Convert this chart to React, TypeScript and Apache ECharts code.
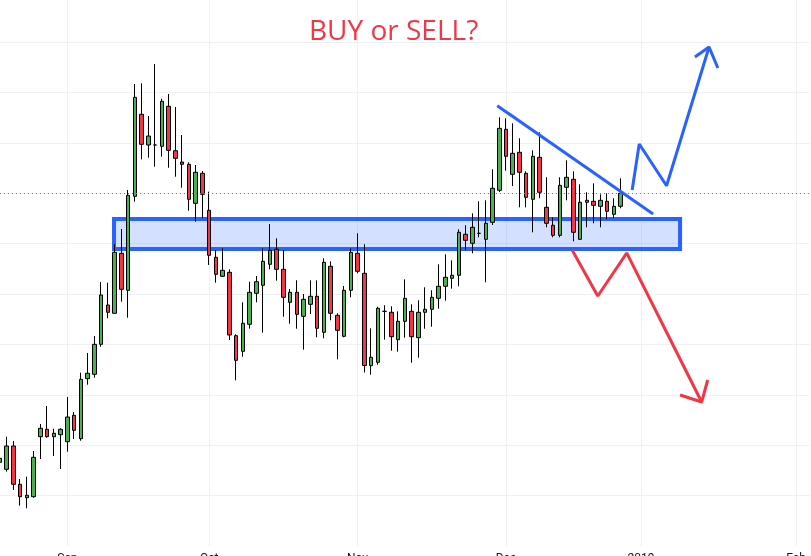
import React, { useEffect, useRef } from "react";
import * as echarts from "echarts";

// Month blocks visible on the time axis (trading days shown per month)
const monthNames = ["Aug", "Sep", "Oct", "Nov", "Dec", "Jan", "Feb"];
const monthTicks = ["", "Sep", "Oct", "Nov", "Dec", "2019", "Feb"];
const daysInView = [10, 21, 22, 22, 20, 23, 3];

// OHLC (price index units)
const opens = [83.7, 76.7, 100, 61.7, 48.3, 49.3, 109.3, 116.7, 109.3, 111.3, 104.3, 130.7, 107.3, 167.3, 171.7, 201.7, 241, 232.7, 292.7, 255.7, 349.7, 431.7, 401, 401, 399.7, 439.7, 395.3, 384, 381.7, 342.7, 372.7, 335.7, 288.7, 269.7, 273.7, 210.3, 194.7, 221.7, 252.7, 260.7, 281.7, 296.7, 276.7, 243.7, 253.7, 229.7, 241.7, 249.7, 213.7, 279.7, 230.7, 209.7, 255.7, 292.7, 272.7, 180.3, 183.7, 234.7, 233.7, 206.3, 224.7, 234.7, 208.3, 233.7, 236.7, 247.7, 259.7, 267.7, 270.7, 311.7, 302.7, 312.7, 306.7, 323.7, 355.7, 416.7, 371.7, 393.7, 372.7, 346.7, 388.7, 338.7, 320.7, 310.7, 358.7, 366.7, 306.7, 343.7, 344.7, 339.7, 344.7, 331.7, 339.7];
const closes = [87.7, 100, 61.7, 49.3, 50.7, 88.7, 117.7, 109.3, 112.7, 116.7, 129, 115.7, 166.7, 172.7, 201.7, 251, 233.7, 293.7, 256.7, 350.7, 448.7, 401.7, 410, 401, 444.7, 395.7, 387.7, 381.7, 346.7, 373.7, 351.7, 290.7, 271.7, 275.7, 211, 185.7, 222.7, 253.7, 264.3, 284.7, 295.7, 276.7, 248.7, 253.7, 231.7, 246.7, 249.7, 217.7, 283.7, 232.7, 215.7, 255.7, 293.7, 274.7, 180.5, 188.7, 237.7, 234.7, 209.3, 224.7, 247.7, 209.3, 233.7, 236.7, 248.7, 259.7, 268.7, 270.7, 313.7, 305.7, 318.7, 312.7, 322.7, 357.7, 417.7, 389.7, 392.7, 373.7, 348.7, 389.7, 353.7, 322.7, 310.7, 360.7, 368.7, 313.7, 343.7, 345.7, 340.7, 345.7, 334.7, 339.7, 352.7];
const lows = [80, 74.3, 56, 40.3, 37.7, 48.3, 87, 108.3, 90, 77, 94.3, 107, 105.3, 161.3, 168.3, 199.3, 227.7, 232.7, 244.3, 228.3, 344.3, 386.7, 388.3, 379.3, 389.3, 378.3, 369.3, 358.3, 335.3, 324.3, 327.7, 281, 263.3, 269, 206, 165.7, 189.3, 217.3, 243.7, 213.3, 276.7, 265.3, 229.3, 222.3, 217.3, 196.3, 232, 208.7, 207.7, 225.7, 186.7, 208.7, 248.7, 272.7, 173.5, 171.3, 181.3, 206.3, 195.3, 194.3, 208.3, 183.3, 188.3, 217.3, 219.3, 237.3, 245.3, 257.3, 259.7, 295.7, 292.7, 308.7, 263.7, 321, 354, 375.3, 360, 338.7, 338.7, 313.7, 347.7, 318.7, 308.7, 308.7, 345.7, 304.7, 306, 318.7, 322.7, 318.7, 326.7, 327.7, 337.7];
const highs = [92, 109.3, 105, 67, 69.3, 95, 122, 140, 117.3, 117.7, 149, 134, 173.3, 193, 210, 264, 263.3, 302, 317, 356, 462, 462.7, 430, 482, 447.3, 452, 439, 411, 383.7, 381, 375, 354.3, 296, 297.7, 276.7, 211.7, 243.7, 264.3, 270, 297.7, 322, 307.7, 296, 257, 265.7, 252, 265.7, 265.7, 287.7, 284.7, 232.7, 260, 297.7, 312.7, 301.8, 217.7, 239.3, 240.7, 239.7, 234.7, 266.7, 241.7, 245.7, 258.7, 255.7, 281.7, 291.7, 285.7, 316.7, 320.7, 332.7, 344.7, 345.7, 376.7, 428.7, 427.7, 422.7, 407.7, 374.7, 395.7, 413.7, 368.7, 328.7, 368.7, 385.7, 374.7, 361.7, 353.7, 362.7, 351.7, 352.7, 347.7, 367.7];

// Drawing annotations in (bar index, price) coordinates
const zoneX = [16.9, 100.8];
const zoneY = [297, 327];
const trendLine = [[73.7, 440.3], [96.8, 332]];
const buyPath = [[93.7, 356], [94.75, 402], [98.8, 360.3], [105.1, 499]];
const buyHead = [[103.0, 489], [105.1, 499], [106.4, 478]];
const sellPath = [[84.8, 296], [88.6, 250], [92.9, 293], [104.0, 144]];
const sellHead = [[100.8, 151], [104.0, 144], [104.9, 166]];

const titleText = "BUY or SELL?";

export default function App() {
  const ref = useRef<HTMLDivElement>(null);
  useEffect(() => {
    if (!ref.current) return;
    const chart = echarts.init(ref.current, undefined, { renderer: "svg" });

    const categories: string[] = [];
    const monthStart = new Map<number, string>();
    monthNames.forEach((m, mi) => {
      if (mi > 0) monthStart.set(categories.length, monthTicks[mi]);
      for (let d = 0; d < daysInView[mi]; d++) categories.push(`${m} ${d + 1}`);
    });
    const candleData = opens.map((o, i) => [o, closes[i], lows[i], highs[i]]);
    const total = categories.length - 1;
    const blue = "#2962ff";
    const red = "#f23645";
    const gridColor = "#eef0f3";

    chart.setOption({
      animation: false,
      title: {
        text: titleText,
        left: 304,
        top: 10,
        textStyle: { color: red, fontSize: 28, fontWeight: "normal", fontFamily: "Open Sans" },
      },
      grid: { left: 0, right: 1.4, top: 0, bottom: 10, outerBoundsMode: "none", containLabel: false },
      xAxis: [
        {
          type: "category",
          data: categories,
          boundaryGap: false,
          axisLine: { show: false },
          axisTick: { show: false },
          axisLabel: {
            interval: (i: number) => monthStart.has(i),
            formatter: (_v: string, i: number) => monthStart.get(i) || "",
            color: "#131722",
            fontSize: 12,
            fontFamily: "Roboto",
            margin: 6,
          },
          splitLine: {
            show: true,
            interval: (i: number) => monthStart.has(i),
            lineStyle: { color: gridColor, width: 1 },
          },
        },
        { type: "value", min: 0, max: total, show: false },
      ],
      yAxis: {
        type: "value",
        min: 0,
        max: 546,
        interval: 50.4,
        axisLabel: { show: false },
        axisLine: { show: false },
        axisTick: { show: false },
        splitLine: { show: true, showMinLine: false, showMaxLine: false, lineStyle: { color: gridColor, width: 1 } },
      },
      series: [
        {
          type: "candlestick",
          data: candleData,
          barWidth: 4,
          z: 2,
          itemStyle: {
            color: "#4caf50",
            color0: red,
            borderColor: "#000",
            borderColor0: "#000",
            borderColorDoji: "#000",
            borderWidth: 1,
          },
          markLine: {
            silent: true,
            symbol: ["none", "none"],
            label: { show: false },
            lineStyle: { type: [1, 3], color: "#4a9a55", width: 1 },
            data: [{ yAxis: closes[closes.length - 1] }],
          },
        },
        {
          type: "line",
          xAxisIndex: 1,
          z: 5,
          symbol: "none",
          data: trendLine,
          lineStyle: { color: blue, width: 3 },
          markArea: {
            silent: true,
            itemStyle: { color: "rgba(41,98,255,0.2)", borderColor: blue, borderWidth: 4 },
            data: [[{ coord: [zoneX[0], zoneY[1]] }, { coord: [zoneX[1], zoneY[0]] }]],
          },
        },
        { type: "line", xAxisIndex: 1, z: 6, symbol: "none", data: buyPath, lineStyle: { color: blue, width: 3 } },
        { type: "line", xAxisIndex: 1, z: 6, symbol: "none", data: buyHead, lineStyle: { color: blue, width: 3 } },
        { type: "line", xAxisIndex: 1, z: 6, symbol: "none", data: sellPath, lineStyle: { color: red, width: 3 } },
        { type: "line", xAxisIndex: 1, z: 6, symbol: "none", data: sellHead, lineStyle: { color: red, width: 3 } },
      ],
    });
    return () => chart.dispose();
  }, []);
  return <div ref={ref} style={{ position: "fixed", left: 0, top: 0, width: 811, height: 556 }} />;
}
